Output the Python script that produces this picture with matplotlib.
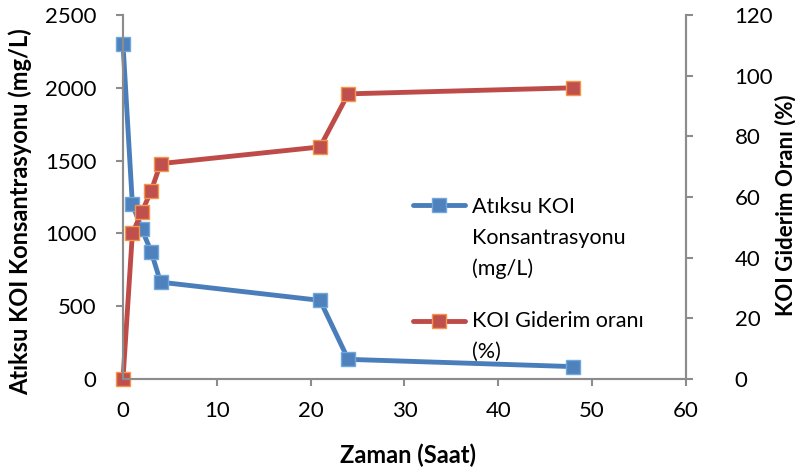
import matplotlib.pyplot as plt
from matplotlib.legend_handler import HandlerLine2D
from matplotlib.transforms import Affine2D

# Data
zaman = [0, 1, 2, 3, 4, 21, 24, 48]
koi_konsantrasyon = [2300, 1200, 1030, 875, 665, 540, 135, 85]
koi_giderim = [0, 48, 55, 62, 71, 76.5, 94, 96]

x_ticks = [0, 10, 20, 30, 40, 50, 60]
left_ticks = [0, 500, 1000, 1500, 2000, 2500]
right_ticks = [0, 20, 40, 60, 80, 100, 120]

plt.rcParams['font.family'] = ['Lato', 'DejaVu Sans']

blue_line = '#4A7EBB'
blue_face = '#4F81BD'
blue_edge = '#6FA8DC'
red_line = '#BE4B48'
red_face = '#C0504D'
red_edge = '#F79646'
spine_gray = '#8C8C8C'


class ShiftedLine(HandlerLine2D):
    # Excel puts the legend key next to the first text line, not the middle
    def __init__(self, dy, **kw):
        super().__init__(**kw)
        self.dy = dy

    def create_artists(self, legend, orig_handle, xdescent, ydescent,
                       width, height, fontsize, trans):
        trans = Affine2D().translate(0, self.dy) + trans
        return super().create_artists(legend, orig_handle, xdescent, ydescent,
                                      width, height, fontsize, trans)


def plot_chart():
    fig = plt.figure(figsize=(7.95, 4.72), dpi=100)
    ax = fig.add_axes([123 / 795, 93 / 472, 563 / 795, 364 / 472])
    ax2 = ax.twinx()

    style = dict(linewidth=3.5, marker='s', markersize=9.5, markeredgewidth=1,
                 clip_on=False, solid_capstyle='round')
    l1, = ax.plot(zaman, koi_konsantrasyon, color=blue_line,
                  markerfacecolor=blue_face, markeredgecolor=blue_edge,
                  label='Atıksu KOI\nKonsantrasyonu\n(mg/L)', **style)
    l2, = ax2.plot(zaman, koi_giderim, color=red_line,
                   markerfacecolor=red_face, markeredgecolor=red_edge,
                   label='KOI Giderim oranı\n(%)', **style)

    ax.set_xlim(0, 60)
    ax.set_ylim(0, 2500)
    ax2.set_ylim(0, 120)
    ax.set_xticks(x_ticks)
    ax.set_yticks(left_ticks)
    ax2.set_yticks(right_ticks)

    for a in (ax, ax2):
        a.spines['top'].set_visible(False)
        for s in ('left', 'right', 'bottom'):
            a.spines[s].set_color(spine_gray)
            a.spines[s].set_linewidth(1.5)
        a.tick_params(direction='out', length=5, width=1.5, color=spine_gray,
                      labelsize=16)
    ax.tick_params(axis='y', pad=14)
    ax.tick_params(axis='x', pad=11)
    ax2.tick_params(axis='y', pad=30)

    ax.set_xlabel('Zaman (Saat)', fontsize=17, fontweight='bold')
    ax.set_ylabel('Atıksu KOI Konsantrasyonu (mg/L)', fontsize=17,
                  fontweight='bold')
    ax2.set_ylabel('KOI Giderim Oranı (%)', fontsize=16, fontweight='bold')
    ax.xaxis.set_label_coords(0.506, -0.176)
    ax.yaxis.set_label_coords(-0.162, 0.459)
    ax2.yaxis.set_label_coords(1.157, 0.478)

    leg = ax2.legend(handles=[l1, l2], loc='upper left',
                     bbox_to_anchor=(0.515, 0.5), frameon=False, fontsize=15.5,
                     handlelength=2.4, handletextpad=0.33, labelspacing=1.5,
                     borderaxespad=0, borderpad=0,
                     handler_map={l1: ShiftedLine(23.8), l2: ShiftedLine(11.9)})
    for t in leg.get_texts():
        t.set_linespacing(1.66)

    fig.savefig('out.png', dpi=100)


if __name__ == "__main__":
    plot_chart()
